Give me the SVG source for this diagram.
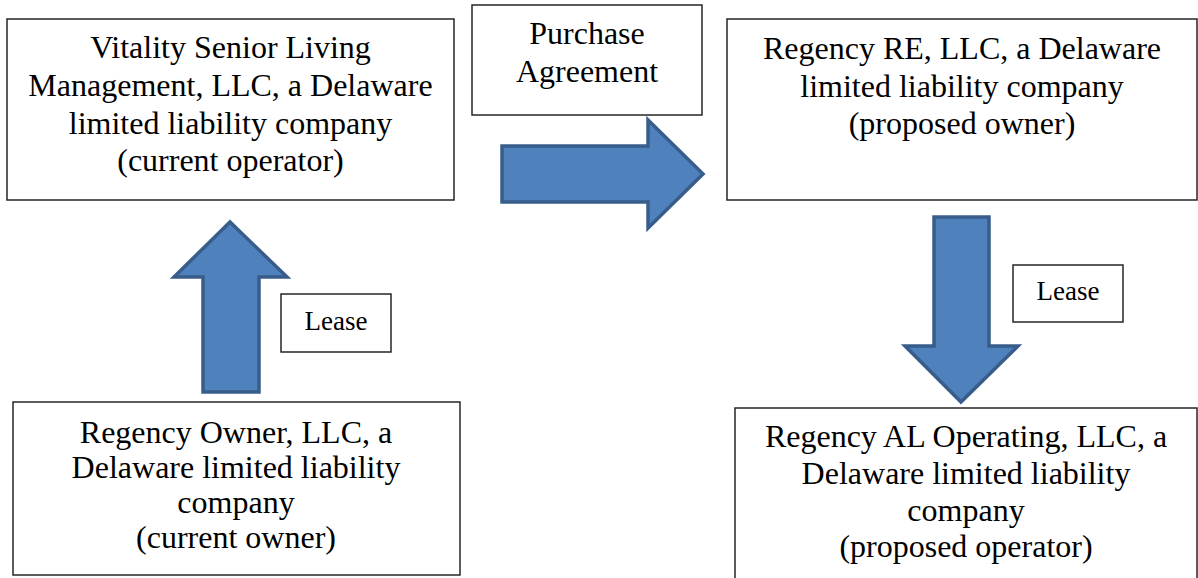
<svg xmlns="http://www.w3.org/2000/svg" width="1198" height="578" viewBox="0 0 1198 578">
<style>
.box{fill:#fff;stroke:#262626;stroke-width:1.5}
.t{font-family:"Liberation Serif","Times New Roman",serif;font-size:32px;fill:#000;text-anchor:middle}
.s{font-family:"Liberation Serif","Times New Roman",serif;font-size:27px;fill:#000;text-anchor:middle}
.arr{fill:#4F81BD;stroke:#385D8A;stroke-width:3.5;stroke-linejoin:miter}
</style>
<rect width="1198" height="578" fill="#fff"/>
<g id="connectors">
<polygon class="arr" points="502,146 648,146 648,120 703,174 648,228 648,202 502,202"/>
<polygon class="arr" points="203,392 203,277 174,277 230,222 287,277 259,277 259,392"/>
<polygon class="arr" points="934,217 989,217 989,346 1018,346 961,402 905,346 934,346"/>
</g>
<g id="vitality">
<rect class="box" x="7" y="19" width="447" height="181"/>
<text class="t" x="230.5" y="58">Vitality Senior Living</text>
<text class="t" x="230.5" y="96">Management, LLC, a Delaware</text>
<text class="t" x="230.5" y="134">limited liability company</text>
<text class="t" x="230.5" y="171">(current operator)</text>
</g>
<g id="purchase">
<rect class="box" x="472" y="5" width="230" height="110"/>
<text class="t" x="587" y="44">Purchase</text>
<text class="t" x="587" y="82">Agreement</text>
</g>
<g id="regency-re">
<rect class="box" x="727" y="19" width="470" height="181"/>
<text class="t" x="962" y="59">Regency RE, LLC, a Delaware</text>
<text class="t" x="962" y="97">limited liability company</text>
<text class="t" x="962" y="134">(proposed owner)</text>
</g>
<g id="lease-left">
<rect class="box" x="281" y="294" width="110" height="58"/>
<text class="s" x="336" y="330">Lease</text>
</g>
<g id="lease-right">
<rect class="box" x="1013" y="265" width="110" height="57"/>
<text class="s" x="1068" y="300">Lease</text>
</g>
<g id="regency-owner">
<rect class="box" x="13" y="402" width="447" height="173"/>
<text class="t" x="236" y="443">Regency Owner, LLC, a</text>
<text class="t" x="236" y="478">Delaware limited liability</text>
<text class="t" x="236" y="513">company</text>
<text class="t" x="236" y="548">(current owner)</text>
</g>
<g id="regency-al">
<rect class="box" x="735" y="408" width="462" height="175"/>
<text class="t" x="966" y="447">Regency AL Operating, LLC, a</text>
<text class="t" x="966" y="484">Delaware limited liability</text>
<text class="t" x="966" y="521">company</text>
<text class="t" x="966" y="557">(proposed operator)</text>
</g>
</svg>
